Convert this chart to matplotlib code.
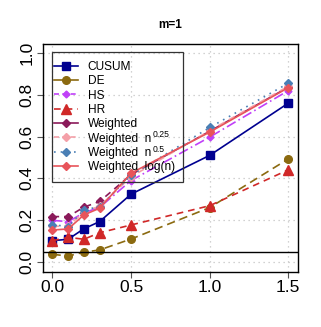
import numpy as np
import matplotlib
matplotlib.use('Agg')
import matplotlib.pyplot as plt
from matplotlib.lines import Line2D
from matplotlib.patches import Rectangle

plt.rcParams['font.family'] = ['Liberation Sans', 'DejaVu Sans']

# shift sizes
x = [0.0, 0.1, 0.2, 0.3, 0.5, 1.0, 1.5]

# detection rates per method
cusum = [0.103, 0.110, 0.160, 0.194, 0.325, 0.510, 0.759]
de = [0.038, 0.030, 0.048, 0.059, 0.111, 0.261, 0.493]
hs = [0.200, 0.194, 0.236, 0.262, 0.390, 0.597, 0.819]
hr = [0.103, 0.119, 0.110, 0.141, 0.178, 0.270, 0.441]
weighted = [0.218, 0.218, 0.263, 0.290, 0.418, 0.625, 0.835]
w_q = [0.172, 0.172, 0.240, 0.268, 0.408, 0.628, 0.840]
w_sqrt = [0.180, 0.170, 0.250, 0.265, 0.415, 0.643, 0.854]
w_log = [0.154, 0.159, 0.226, 0.258, 0.425, 0.621, 0.833]

alpha = 0.05

# superscripts drawn separately so legend rows stay evenly spaced
sups = {5: "0.25", 6: "0.5"}

series = [
    # label, values, color, plot linestyle, legend linestyle, marker, size
    ("CUSUM", cusum, "#000090", "-", "-", "s", 5.5),
    ("DE", de, "#8B6A10", (0, (5, 3)), "-", "o", 5.5),
    ("HS", hs, "#C040F8", (0, (6, 2, 1, 2)), (0, (3, 2)), "D", 3.5),
    ("HR", hr, "#D02828", (0, (4, 3)), (0, (4, 3)), "^", 6.5),
    ("Weighted", weighted, "#8B1A5A", (0, (4, 3)), "-", "D", 4),
    ("Weighted  n", w_q, "#F4A0A8", (0, (4, 3)), (0, (3, 2)), "D", 4),
    ("Weighted  n", w_sqrt, "#4A7FB5", (0, (1, 3)), (0, (1, 3)), "D", 4),
    ("Weighted  log(n)", w_log, "#E8545A", "-", "-", "D", 4),
]

fs = 8.6

fig = plt.figure(figsize=(3.21, 3.27), dpi=100)
ax = fig.add_axes([0.134, 0.169, 0.7935, 0.6976])

for xv in [0, 0.5, 1.0, 1.5]:
    ax.axvline(xv, color="#C4C4C4", lw=0.9, ls=(0, (1, 3)), zorder=0)
for yv in [0, 0.2, 0.4, 0.6, 0.8, 1.0]:
    ax.axhline(yv, color="#C4C4C4", lw=0.9, ls=(0, (1, 3)), zorder=0)

handles = []
for label, vals, col, ls, lls, mk, ms in series:
    ax.plot(x, vals, color=col, ls=ls, lw=1.2, marker=mk, ms=ms,
            markeredgecolor=col)
    handles.append(Line2D([], [], color=col, ls=lls, lw=1.2, marker=mk,
                          ms=ms, markeredgecolor=col, label=label))

ax.axhline(alpha, color="black", lw=1.0)

ax.set_xlim(-0.06, 1.56)
ax.set_ylim(-0.045, 1.043)
ax.set_xticks([0.0, 0.5, 1.0, 1.5])
ax.set_xticklabels(["0.0", "0.5", "1.0", "1.5"])
ax.set_yticks([0.0, 0.2, 0.4, 0.6, 0.8, 1.0])
ax.set_yticklabels(["0.0", "0.2", "0.4", "0.6", "0.8", "1.0"], rotation=90,
                   va="center")
ax.tick_params(labelsize=12.5, length=4, color="#555555", pad=2)
for s in ax.spines.values():
    s.set_linewidth(1.0)

ax.set_title("m=1", fontsize=8.5, fontweight="bold", pad=11)

leg = ax.legend(handles=handles, loc="upper left",
                bbox_to_anchor=(0.0448, 0.925), borderaxespad=0,
                fontsize=fs, handlelength=2.0, handletextpad=0.8,
                labelspacing=0.2, borderpad=0, frameon=False)

# legend box drawn by hand (transparent, like the original)
ax.add_patch(Rectangle((0.0354, 0.393), 0.549 - 0.0354, 0.962 - 0.393,
                       transform=ax.transAxes, fill=False,
                       edgecolor="#333333", lw=0.9, zorder=6))

fig.canvas.draw()
renderer = fig.canvas.get_renderer()
texts = leg.get_texts()
px = fig.dpi / 72.0
for i, s in sups.items():
    t = texts[i]
    bb = t.get_window_extent(renderer)
    base = bb.y0 + 0.212 * fs * px
    fig.text((bb.x1 + 1.5) / fig.bbox.width,
             (base + 5.0) / fig.bbox.height,
             s, fontsize=6.2, va="baseline", ha="left")

fig.savefig("out.png", dpi=100)
